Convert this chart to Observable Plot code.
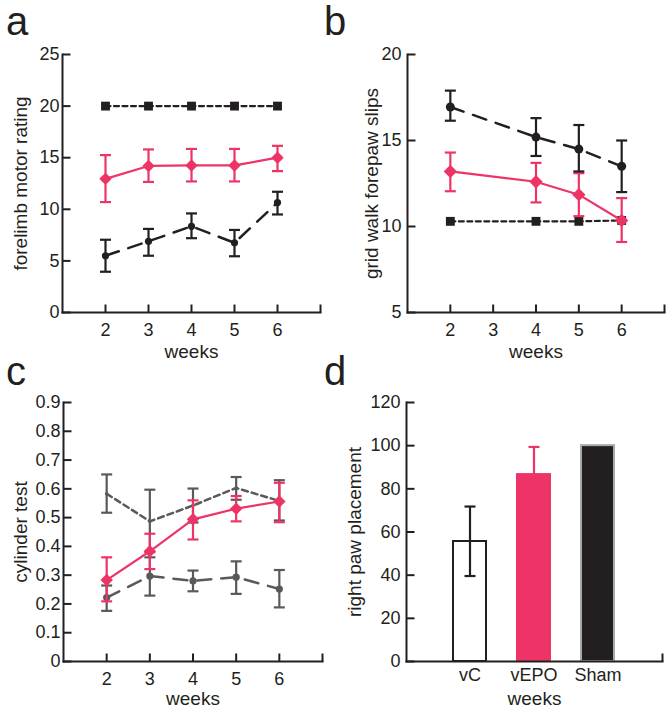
<!DOCTYPE html>
<html><head><meta charset="utf-8">
<script src="https://cdn.jsdelivr.net/npm/d3@7"></script>
<script src="https://cdn.jsdelivr.net/npm/@observablehq/plot@0.6"></script>
<style>
body{margin:0;background:#fff;font-family:"Liberation Sans",Arial,sans-serif;}
#root{position:relative;width:672px;height:711px;overflow:hidden;background:#fff;}
.panel{position:absolute;}
.letter{position:absolute;font-size:40px;line-height:40px;color:#231f20;}
</style></head><body><div id="root"></div>
<script>
// ---------- data ----------
const panelLetters = ["a", "b", "c", "d"];
const xLabel = "weeks";

// Panel a: forelimb motor rating
const weeksA = [2, 3, 4, 5, 6];
const shamA = [20, 20, 20, 20, 20];
const epoA = [12.95, 14.2, 14.25, 14.25, 15.0];
const epoALo = [10.7, 12.65, 12.7, 12.7, 13.7];
const epoAHi = [15.25, 15.8, 15.85, 15.85, 16.15];
const vcA = [5.5, 6.9, 8.35, 6.75, 10.65];
const vcALo = [3.95, 5.5, 7.2, 5.45, 9.5];
const vcAHi = [7.05, 8.1, 9.6, 8.0, 11.7];
const yTicksA = [0, 5, 10, 15, 20, 25];

// Panel b: grid walk forepaw slips
const weeksB = [2, 4, 5, 6];
const shamB = [10.3, 10.3, 10.3, 10.35];
const epoB = [13.2, 12.6, 11.85, 10.35];
const epoBLo = [12.05, 11.4, 10.6, 9.1];
const epoBHi = [14.3, 13.7, 13.1, 11.65];
const vcB = [16.95, 15.2, 14.5, 13.5];
const vcBLo = [16.15, 14.1, 13.2, 12.0];
const vcBHi = [17.9, 16.3, 15.9, 15.0];
const yTicksB = [5, 10, 15, 20];

// Panel c: cylinder test
const weeksC = [2, 3, 4, 5, 6];
const shamC = [0.583, 0.487, 0.542, 0.603, 0.558];
const shamCLo = [0.517, 0.38, 0.483, 0.562, 0.49];
const shamCHi = [0.65, 0.597, 0.601, 0.641, 0.63];
const epoC = [0.283, 0.383, 0.494, 0.531, 0.556];
const epoCLo = [0.209, 0.321, 0.424, 0.487, 0.484];
const epoCHi = [0.362, 0.444, 0.56, 0.575, 0.621];
const vcC = [0.222, 0.297, 0.28, 0.293, 0.252];
const vcCLo = [0.176, 0.229, 0.244, 0.235, 0.188];
const vcCHi = [0.264, 0.362, 0.316, 0.348, 0.318];
const yTicksC = [0, 0.1, 0.2, 0.3, 0.4, 0.5, 0.6, 0.7, 0.8, 0.9];

// Panel d: right paw placement
const groupsD = ["vC", "vEPO", "Sham"];
const valuesD = [55.6, 86.6, 100];
const errLoD = [39.6, 73.8, null];
const errHiD = [71.8, 99.4, null];
const yTicksD = [0, 20, 40, 60, 80, 100, 120];

const xTicksLabeled = [2, 3, 4, 5, 6];
const xTickMarks = [2, 3, 4, 5, 6, 7];
const xDomain = [1, 7];

// ---------- styles ----------
const BLACK = "#231f20", PINK = "#ee3467", GRAY = "#58595b";
const FONT = "Liberation Sans, Arial, Helvetica, sans-serif";
const TICK_FS = 18, LABEL_FS = 19;
const capSym = {draw(c) { c.moveTo(-5.5, 0); c.lineTo(5.5, 0); }};
const tickUp = {draw(c) { c.moveTo(0, 0); c.lineTo(0, -8); }};
const tickRight = {draw(c) { c.moveTo(0, 0); c.lineTo(8, 0); }};

function rowsOf(x, v, lo, hi) {
  return x.map((w, i) => ({w, v: v[i], lo: lo ? lo[i] : null, hi: hi ? hi[i] : null}));
}

function seriesMarks(rows, {color, dash, symbol, r, sw = 2.2}) {
  const m = [Plot.line(rows, {x: "w", y: "v", stroke: color, strokeWidth: sw, strokeDasharray: dash})];
  if (rows[0].lo != null) {
    m.push(Plot.ruleX(rows, {x: "w", y1: "lo", y2: "hi", stroke: color, strokeWidth: 2.2}));
    m.push(Plot.dot(rows, {x: "w", y: "lo", symbol: capSym, r: 1, fill: "none", stroke: color, strokeWidth: 2.2}));
    m.push(Plot.dot(rows, {x: "w", y: "hi", symbol: capSym, r: 1, fill: "none", stroke: color, strokeWidth: 2.2}));
  }
  if (symbol) m.push(Plot.dot(rows, {x: "w", y: "v", symbol, r, fill: color, stroke: "none"}));
  return m;
}

function linePanel({series, yDomain, yTicks, yLabel, margins, yLabelDx, tickPadX, tickPadY, weeksDy}) {
  return Plot.plot({
    width: 336, height: 360,
    ...margins,
    style: {fontFamily: FONT, fontSize: TICK_FS + "px", color: BLACK, background: "transparent", overflow: "visible"},
    x: {domain: xDomain},
    y: {domain: yDomain},
    marks: [
      ...series.flatMap(s => seriesMarks(s.rows, s)),
      Plot.frame({anchor: "left", stroke: BLACK, strokeWidth: 2}),
      Plot.frame({anchor: "bottom", stroke: BLACK, strokeWidth: 2}),
      Plot.dot(xTickMarks, {x: d => d, frameAnchor: "bottom", symbol: tickUp, r: 1, fill: "none", stroke: BLACK, strokeWidth: 2}),
      Plot.dot(yTicks, {y: d => d, frameAnchor: "left", symbol: tickRight, r: 1, fill: "none", stroke: BLACK, strokeWidth: 2}),
      Plot.axisX(xTicksLabeled, {tickSize: 0, tickPadding: tickPadX, fontSize: TICK_FS, label: null, tickFormat: d => `${d}`}),
      Plot.axisY(yTicks, {tickSize: 0, tickPadding: tickPadY, fontSize: TICK_FS, label: null, tickFormat: d => `${d}`}),
      Plot.text([yLabel], {frameAnchor: "left", rotate: -90, dx: yLabelDx, fontSize: LABEL_FS, textAnchor: "middle", lineAnchor: "middle", fill: BLACK}),
      Plot.text([xLabel], {frameAnchor: "bottom", dy: weeksDy, fontSize: LABEL_FS, lineAnchor: "middle", fill: BLACK})
    ]
  });
}

const root = document.getElementById("root");
function place(node, left, top) {
  const d = document.createElement("div");
  d.className = "panel"; d.style.left = left + "px"; d.style.top = top + "px";
  d.appendChild(node); root.appendChild(d);
}

// Panel a
place(linePanel({
  series: [
    {rows: rowsOf(weeksA, shamA), color: BLACK, dash: "5,3.5", symbol: "square", r: 5, sw: 2.2},
    {rows: rowsOf(weeksA, epoA, epoALo, epoAHi), color: PINK, dash: null, symbol: "diamond2", r: 5.6, sw: 2.2},
    {rows: rowsOf(weeksA, vcA, vcALo, vcAHi), color: BLACK, dash: "14,10", symbol: "circle", r: 3.6, sw: 2.5}
  ],
  yDomain: [0, 25], yTicks: yTicksA, yLabel: "forelimb motor rating",
  margins: {marginLeft: 62, marginRight: 16, marginTop: 54, marginBottom: 48},
  yLabelDx: -42, tickPadX: 11, tickPadY: 3, weeksDy: 39
}), 0, 0);

// Panel b
place(linePanel({
  series: [
    {rows: rowsOf(weeksB, shamB), color: BLACK, dash: "5,3.5", symbol: "square", r: 5, sw: 2.2},
    {rows: rowsOf(weeksB, epoB, epoBLo, epoBHi), color: PINK, dash: null, symbol: "diamond2", r: 6, sw: 2.2},
    {rows: rowsOf(weeksB, vcB, vcBLo, vcBHi), color: BLACK, dash: "14,10", symbol: "circle", r: 4.5, sw: 2.5}
  ],
  yDomain: [5, 20], yTicks: yTicksB, yLabel: "grid walk forepaw slips",
  margins: {marginLeft: 71, marginRight: 8, marginTop: 54, marginBottom: 48},
  yLabelDx: -36, tickPadX: 11, tickPadY: 6, weeksDy: 39
}), 336, 0);

// Panel c
place(linePanel({
  series: [
    {rows: rowsOf(weeksC, shamC, shamCLo, shamCHi), color: GRAY, dash: "6,4", symbol: "circle", r: 1.8, sw: 2.5},
    {rows: rowsOf(weeksC, vcC, vcCLo, vcCHi), color: GRAY, dash: "14,10", symbol: "circle", r: 3.6, sw: 2.5},
    {rows: rowsOf(weeksC, epoC, epoCLo, epoCHi), color: PINK, dash: null, symbol: "diamond2", r: 5.6, sw: 2.2}
  ],
  yDomain: [0, 0.9], yTicks: yTicksC, yLabel: "cylinder test",
  margins: {marginLeft: 63, marginRight: 14, marginTop: 52, marginBottom: 49},
  yLabelDx: -43, tickPadX: 10.5, tickPadY: 3, weeksDy: 37
}), 0, 350);

// Panel d
const rowsD = groupsD.map((g, i) => ({g, v: valuesD[i], lo: errLoD[i], hi: errHiD[i]}));
const errRowsD = rowsD.filter(d => d.hi != null);
const fillD = {vC: "#ffffff", vEPO: PINK, Sham: BLACK};
const strokeD = {vC: BLACK, vEPO: PINK, Sham: "#a7a9ac"};
const errColorD = {vC: BLACK, vEPO: PINK};
place(Plot.plot({
  width: 336, height: 360,
  marginLeft: 70, marginRight: 10, marginTop: 52, marginBottom: 49,
  style: {fontFamily: FONT, fontSize: TICK_FS + "px", color: BLACK, background: "transparent", overflow: "visible"},
  x: {type: "band", domain: groupsD, paddingInner: 0.48, paddingOuter: 0.72},
  y: {domain: [0, 120]},
  color: {type: "identity"},
  marks: [
    Plot.barY(rowsD, {x: "g", y: "v", fill: d => fillD[d.g], stroke: d => strokeD[d.g], strokeWidth: 2}),
    Plot.ruleX(errRowsD, {x: "g", y1: "lo", y2: "hi", stroke: d => errColorD[d.g], strokeWidth: 2.2}),
    Plot.dot(errRowsD, {x: "g", y: "hi", symbol: capSym, r: 1, fill: "none", stroke: d => errColorD[d.g], strokeWidth: 2.2}),
    Plot.dot(errRowsD.filter(d => d.g === "vC"), {x: "g", y: "lo", symbol: capSym, r: 1, fill: "none", stroke: d => errColorD[d.g], strokeWidth: 2.2}),
    Plot.frame({anchor: "left", stroke: BLACK, strokeWidth: 2}),
    Plot.frame({anchor: "bottom", stroke: BLACK, strokeWidth: 2}),
    Plot.dot([0], {frameAnchor: "bottom-right", symbol: tickUp, r: 1, fill: "none", stroke: BLACK, strokeWidth: 2}),
    Plot.dot(yTicksD, {y: d => d, frameAnchor: "left", symbol: tickRight, r: 1, fill: "none", stroke: BLACK, strokeWidth: 2}),
    Plot.axisX(groupsD, {tickSize: 0, tickPadding: 7, fontSize: TICK_FS, label: null}),
    Plot.axisY(yTicksD, {tickSize: 0, tickPadding: 6, fontSize: TICK_FS, label: null, tickFormat: d => `${d}`}),
    Plot.text(["right paw placement"], {frameAnchor: "left", rotate: -90, dx: -52, fontSize: LABEL_FS, textAnchor: "middle", lineAnchor: "middle", fill: BLACK}),
    Plot.text([xLabel], {frameAnchor: "bottom", dy: 37, fontSize: LABEL_FS, lineAnchor: "middle", fill: BLACK})
  ]
}), 336, 350);

// Panel letters
const letterPos = [[6, 1], [324, 1], [6, 351], [324, 351]];
panelLetters.forEach((t, i) => {
  const s = document.createElement("div");
  s.className = "letter"; s.textContent = t;
  s.style.left = letterPos[i][0] + "px"; s.style.top = letterPos[i][1] + "px";
  root.appendChild(s);
});
</script></body></html>
